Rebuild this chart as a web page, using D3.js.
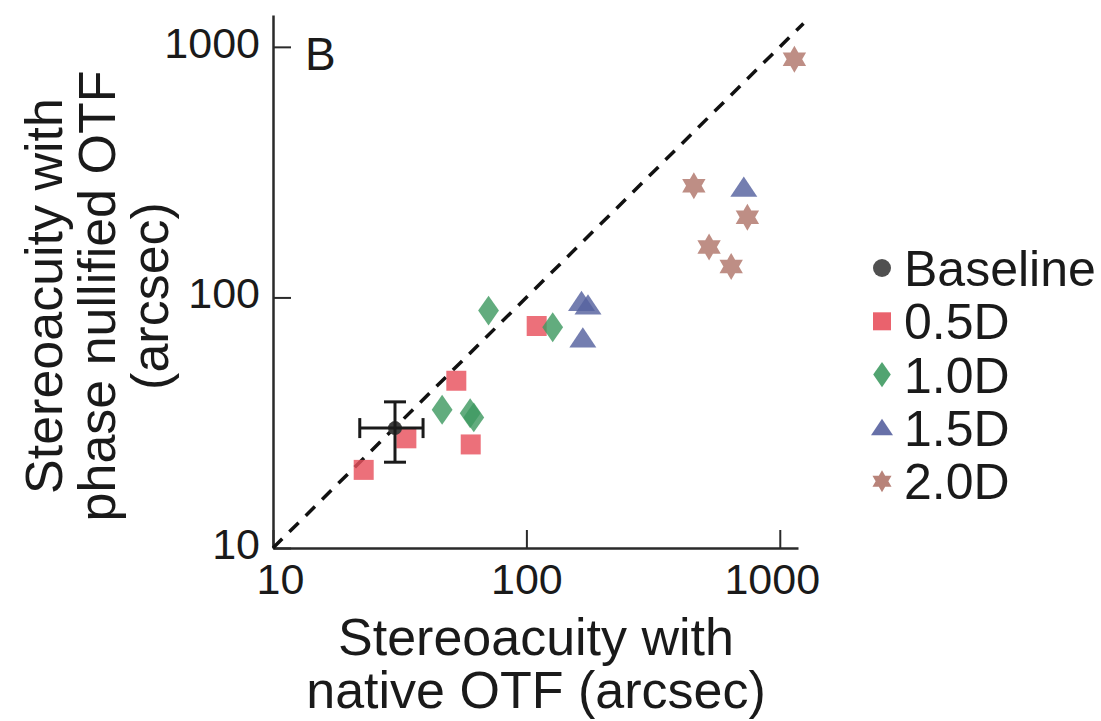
<!DOCTYPE html>
<html lang="en">
<head>
<meta charset="utf-8">
<title>Stereoacuity</title>
<script src="https://d3js.org/d3.v7.min.js"></script>
<style>
  body { margin: 0; background: #fff; }
  text { font-family: "Liberation Sans", Arial, sans-serif; fill: #1a1a1a; }
</style>
</head>
<body>
<script>
// values (arcsec)
var legendNames = ["Baseline", "0.5D", "1.0D", "1.5D", "2.0D"];

var baselineXY = [30.3, 30.1];
var baselineXErr = [22.0, 39.1];
var baselineYErr = [22.0, 38.3];

var d05x = [22.8, 33.6, 52.9, 60.3, 109.8];
var d05y = [20.5, 27.4, 46.5, 25.9, 76.9];

var d10x = [70.9, 46.5, 60.0, 62.0, 127];
var d10y = [88.6, 35.6, 34.5, 33.2, 76.0];

var d15x = [165, 175, 167, 721];
var d15y = [96, 93, 68.7, 274];

var d20x = [1142, 458, 745, 526, 643];
var d20y = [893, 279, 209, 159, 133];

var majorTicks = [10, 100, 1000];
var minorTicks = [20, 30, 40, 50, 60, 70, 80, 90, 200, 300, 400, 500, 600, 700, 800, 900];

// configuration
var width = 1101, height = 721;
var colors = ["#3d3d3d", "#e8515d", "#3f9a62", "#56619f", "#b0756a"];

var svg = d3.select("body").append("svg")
    .attr("width", width)
    .attr("height", height);

var xScale = d3.scaleLog().domain([10, 1180]).range([273, 798]);
var yScale = d3.scaleLog().domain([10, 1340]).range([548, 15]);

// custom marker shapes, "size" is half the marker extent
var shapes = {
    circle: { draw: function (c, s) { c.moveTo(s, 0); c.arc(0, 0, s, 0, 2 * Math.PI); } },
    square: { draw: function (c, s) { c.rect(-s, -s, 2 * s, 2 * s); } },
    diamond: { draw: function (c, s) {
        var w = s * 0.8;
        c.moveTo(0, -s * 1.15); c.lineTo(w, 0); c.lineTo(0, s * 1.15); c.lineTo(-w, 0); c.closePath();
    } },
    triangle: { draw: function (c, s) {
        var h = s * 1.5;
        c.moveTo(0, -h * 0.55); c.lineTo(s * 1.0, h * 0.45); c.lineTo(-s * 1.0, h * 0.45); c.closePath();
    } },
    star: { draw: function (c, s) {
        var inner = s / Math.sqrt(3);
        for (var k = 0; k < 12; k++) {
            var r = k % 2 === 0 ? s : inner;
            var a = -Math.PI / 2 + k * Math.PI / 6;
            if (k === 0) c.moveTo(r * Math.cos(a), r * Math.sin(a));
            else c.lineTo(r * Math.cos(a), r * Math.sin(a));
        }
        c.closePath();
    } }
};

// axes with inward ticks
var gx = svg.append("g").attr("transform", "translate(0,548)");
gx.call(d3.axisBottom(xScale).tickValues(minorTicks).tickSize(-8).tickSizeOuter(0).tickFormat(""));
gx.call(d3.axisBottom(xScale).tickValues(majorTicks).tickSizeInner(-18).tickSizeOuter(0).tickPadding(15)
    .tickFormat(d3.format("d")));

var gy = svg.append("g").attr("transform", "translate(273,0)");
gy.call(d3.axisLeft(yScale).tickValues(minorTicks).tickSize(-8).tickSizeOuter(0).tickFormat(""));
gy.call(d3.axisLeft(yScale).tickValues(majorTicks).tickSizeInner(-18).tickSizeOuter(0).tickPadding(13)
    .tickFormat(d3.format("d")));

svg.selectAll(".domain").attr("stroke", "#2a2a2a").attr("stroke-width", 2.5);
svg.selectAll(".tick line").attr("stroke", "#2a2a2a").attr("stroke-width", 2);
svg.selectAll(".tick text").style("font-size", "43px").attr("fill", "#1a1a1a");
gy.selectAll(".tick text").attr("dy", "0.24em");
gx.selectAll(".tick text").attr("dx", function (d) { return d === 10 ? 7 : d === 1000 ? -8 : 0; });

// unity line
svg.append("line")
    .attr("x1", xScale(10)).attr("y1", yScale(10))
    .attr("x2", xScale(1240)).attr("y2", yScale(1240))
    .attr("stroke", "#111")
    .attr("stroke-width", 3.5)
    .attr("stroke-dasharray", "13,10");

// data points
var groups = [
    { xs: d05x, ys: d05y, shape: shapes.square, size: 10, color: colors[1] },
    { xs: d10x, ys: d10y, shape: shapes.diamond, size: 13, color: colors[2] },
    { xs: d15x, ys: d15y, shape: shapes.triangle, size: 13.5, color: colors[3] },
    { xs: d20x, ys: d20y, shape: shapes.star, size: 13.5, color: colors[4] }
];

groups.forEach(function (grp) {
    var pts = grp.xs.map(function (v, i) { return [v, grp.ys[i]]; });
    svg.append("g").selectAll("path")
        .data(pts)
        .enter().append("path")
        .attr("d", d3.symbol().type(grp.shape).size(grp.size))
        .attr("transform", function (d) { return "translate(" + xScale(d[0]) + "," + yScale(d[1]) + ")"; })
        .attr("fill", grp.color)
        .attr("fill-opacity", 0.82);
});

// baseline with error bars
var bx = xScale(baselineXY[0]), by = yScale(baselineXY[1]);
svg.append("circle")
    .attr("cx", bx).attr("cy", by).attr("r", 7).attr("fill", colors[0]);
var bl = svg.append("g").attr("stroke", "#1a1a1a").attr("stroke-width", 3);
bl.append("line").attr("x1", xScale(baselineXErr[0])).attr("x2", xScale(baselineXErr[1]))
    .attr("y1", by).attr("y2", by);
bl.append("line").attr("x1", bx).attr("x2", bx)
    .attr("y1", yScale(baselineYErr[0])).attr("y2", yScale(baselineYErr[1]));
baselineXErr.forEach(function (v) {
    bl.append("line").attr("x1", xScale(v)).attr("x2", xScale(v)).attr("y1", by - 10).attr("y2", by + 10);
});
baselineYErr.forEach(function (v) {
    bl.append("line").attr("x1", bx - 11).attr("x2", bx + 11).attr("y1", yScale(v)).attr("y2", yScale(v));
});

// panel letter
svg.append("text").attr("x", 305).attr("y", 70).style("font-size", "46px").text("B");

// axis titles
var xTitle = svg.append("text").attr("text-anchor", "middle").style("font-size", "52px");
xTitle.append("tspan").attr("x", 536).attr("y", 655).text("Stereoacuity with");
xTitle.append("tspan").attr("x", 536).attr("y", 708).text("native OTF (arcsec)");

var yTitle = svg.append("text").attr("text-anchor", "middle").style("font-size", "52px")
    .attr("transform", "translate(0,296) rotate(-90)");
yTitle.append("tspan").attr("x", 0).attr("y", 62).text("Stereoacuity with");
yTitle.append("tspan").attr("x", 0).attr("y", 115).text("phase nullified OTF");
yTitle.append("tspan").attr("x", 0).attr("y", 168).text("(arcsec)");

// legend
var legendShapes = [shapes.circle, shapes.square, shapes.diamond, shapes.triangle, shapes.star];
var legendSizes = [9, 9, 11, 11, 11];
var legend = svg.append("g").selectAll("g")
    .data(legendNames)
    .enter().append("g")
    .attr("transform", function (d, i) { return "translate(882," + (268 + i * 53.3) + ")"; });

legend.append("path")
    .attr("d", function (d, i) { return d3.symbol().type(legendShapes[i]).size(legendSizes[i])(); })
    .attr("fill", function (d, i) { return colors[i]; })
    .attr("fill-opacity", 0.9);

legend.append("text")
    .attr("x", 22)
    .attr("y", 18)
    .style("font-size", "50px")
    .text(function (d) { return d; });
</script>
</body>
</html>
